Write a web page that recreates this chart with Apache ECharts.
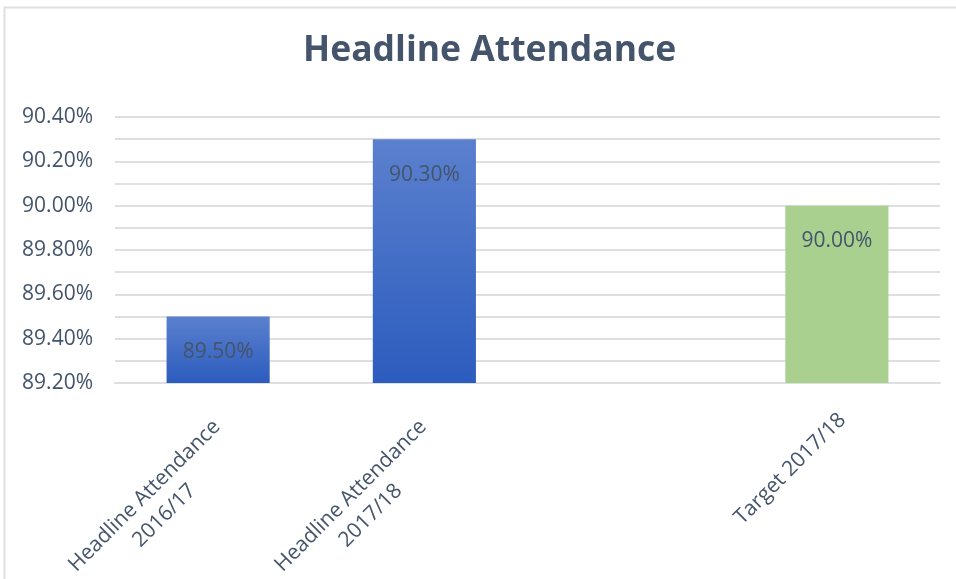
<!DOCTYPE html>
<html>
<head>
<meta charset="utf-8">
<script src="https://cdn.jsdelivr.net/npm/echarts@6/dist/echarts.min.js"></script>
<style>html,body{margin:0;padding:0;background:#fff}#c{width:956px;height:579px}</style>
</head>
<body>
<div id="c"></div>
<script>
var categories = ['Headline Attendance\n2016/17', 'Headline Attendance\n2017/18', '', 'Target 2017/18'];
var values = [89.5, 90.3, null, 90.0];
var yTicks = { min: 89.2, max: 90.4, step: 0.1 };

var FONT = '"Open Sans", sans-serif';
var TXT = '#44546A';
var FS = 21;
var blueGrad = new echarts.graphic.LinearGradient(0, 0, 0, 1, [
  { offset: 0, color: '#5B80CE' },
  { offset: 1, color: '#2C5CBE' }
]);
var colors = [blueGrad, blueGrad, blueGrad, '#A9D08E'];

var chart = echarts.init(document.getElementById('c'), null, { renderer: 'canvas' });
chart.setOption({
  animation: false,
  backgroundColor: '#fff',
  graphic: [{
    type: 'rect', shape: { x: 4.5, y: 7.5, width: 980, height: 600 },
    style: { fill: 'none', stroke: '#DDDFE3', lineWidth: 2 }, z: -1, silent: true
  }],
  title: {
    text: 'Headline Attendance', left: 298, top: 28,
    textStyle: { fontFamily: FONT, fontWeight: 'bold', fontSize: 35.5, color: TXT }
  },
  grid: { left: 115, right: 16, top: 117, bottom: 196, containLabel: false, outerBoundsMode: 'none' },
  xAxis: {
    type: 'category', data: categories,
    axisLine: { show: true, lineStyle: { color: '#DDDFE3', width: 2 } },
    axisTick: { show: false },
    axisLabel: {
      rotate: 45, interval: 0, margin: 28, padding: [16, 0, 0, 0],
      fontFamily: FONT, fontSize: FS, color: TXT, lineHeight: 27,
      formatter: function (v) {
        if (v.indexOf('\n') < 0) return v;
        return '{e| }\n' + v.split('\n').map(function (s) { return '{a|' + s + '}'; }).join('\n');
      },
      rich: {
        e: { fontSize: 4, lineHeight: 28 },
        a: { width: 224, align: 'center', fontFamily: FONT, fontSize: FS, color: TXT, lineHeight: 28 }
      }
    }
  },
  yAxis: {
    type: 'value', min: yTicks.min, max: yTicks.max, interval: yTicks.step,
    axisLine: { show: false }, axisTick: { show: false },
    splitLine: { lineStyle: { color: '#DDDFE3', width: 2 } },
    axisLabel: {
      margin: 22, fontFamily: FONT, fontSize: FS, color: TXT,
      formatter: function (v) {
        var k = Math.round(v * 10);
        return (k % 2 === 0) ? (k / 10).toFixed(2) + '%' : '';
      }
    }
  },
  series: [{
    type: 'bar', barWidth: '50%',
    data: values.map(function (v, i) { return { value: v, itemStyle: { color: colors[i] } }; }),
    label: {
      show: true, position: 'insideTop', distance: 25,
      fontFamily: FONT, fontSize: FS, color: TXT,
      formatter: function (p) { return p.value == null ? '' : p.value.toFixed(2) + '%'; }
    }
  }]
});
</script>
</body>
</html>
